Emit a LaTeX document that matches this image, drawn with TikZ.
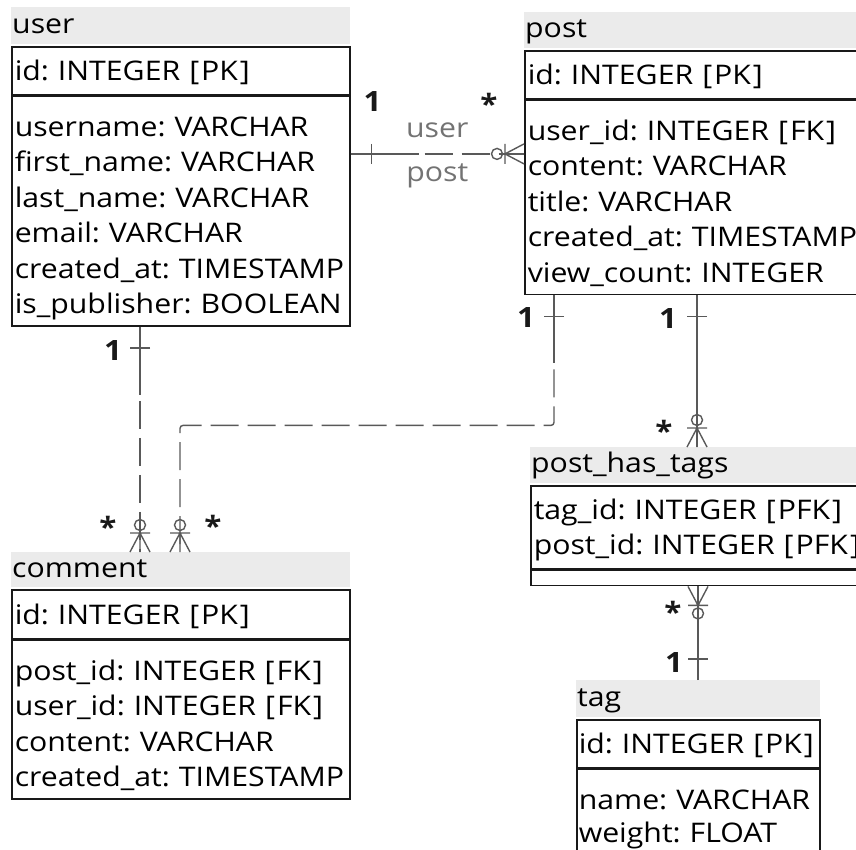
\documentclass[tikz,border=0pt]{standalone}
\usepackage{fontspec}
\setmainfont{Open Sans}[FakeStretch=1.12]
\usetikzlibrary{positioning,calc}
\frenchspacing

\begin{document}
\begin{tikzpicture}[
	x=1pt,y=-1pt,
	node distance=2.5pt,
	tblhead/.style={
		rectangle,fill=black!8,
		anchor=north west,align=left,
		inner xsep=1pt,inner ysep=0pt,
		text height=16pt,text depth=0pt,
		font=\fontsize{27}{35.5}\selectfont},
	tblkey/.style={
		rectangle,draw=black!90,line width=1.5pt,
		anchor=north west,align=left,
		inner xsep=3pt,inner ysep=0pt,
		text height=19pt,text depth=0pt,
		font=\fontsize{27}{35.5}\selectfont},
	tblcols/.style={
		tblkey,inner ysep=12.5pt,text height=27pt},
	rel/.style={draw=black!65,line width=1.4pt},
	broken/.style={rel,dash pattern=on 28pt off 9pt},
	card/.style={inner sep=0pt,text=black!90,
		font=\fontsize{28}{28}\selectfont\bfseries},
	role/.style={inner sep=0pt,text=black!55,
		font=\fontsize{27}{27}\selectfont},
	one/.pic={\draw[rel] (0,0) -- (68,0) (21,-10) -- (21,10);},
	many/.pic={\draw[rel] (0,-10) -- (19,0) -- (0,10) (0,0) -- (19,0)
		(19,-10) -- (19,10) (27,0) circle [radius=5.5pt];}
]
\useasboundingbox (0,0) rectangle (856,849);
\clip (0,0) rectangle (856,849);

% tables
\node[tblhead,text width=337pt,minimum height=36.5pt] (user) at (11,7) {user};
\node[tblkey,text width=332pt,minimum height=48pt,below=of user.south west,anchor=north west] (user-key) {id: INTEGER [\kern2pt PK\kern2pt]};
\node[tblcols,text width=332pt,text depth=177.5pt,below=0pt of user-key.south west,anchor=north west] (user-cols)
	{username: VARCHAR\\first\_name: VARCHAR\\last\_name: VARCHAR\\email: VARCHAR\\created\_at: TIMESTAMP\\is\_publisher: BOOLEAN};

\node[tblhead,text width=338pt,minimum height=35.5pt] (post) at (524,12) {post};
\node[tblkey,text width=334pt,minimum height=48pt,below=of post.south west,anchor=north west] (post-key) {id: INTEGER [\kern2pt PK\kern2pt]};
\node[tblcols,text width=334pt,text depth=142pt,below=0pt of post-key.south west,anchor=north west] (post-cols)
	{user\_id: INTEGER [\kern2pt FK\kern2pt]\\content: VARCHAR\\title: VARCHAR\\created\_at: TIMESTAMP\\view\_count: INTEGER};

\node[tblhead,text width=337pt,minimum height=34.5pt] (comment) at (11,552) {comment};
\node[tblkey,text width=332pt,minimum height=49pt,below=of comment.south west,anchor=north west] (comment-key) {id: INTEGER [\kern2pt PK\kern2pt]};
\node[tblcols,text width=332pt,text depth=106.5pt,below=0pt of comment-key.south west,anchor=north west] (comment-cols)
	{post\_id: INTEGER [\kern2pt FK\kern2pt]\\user\_id: INTEGER [\kern2pt FK\kern2pt]\\content: VARCHAR\\created\_at: TIMESTAMP};

\node[tblhead,text width=338pt,minimum height=35.5pt] (pht) at (530,447) {post\_has\_tags};
\node[tblkey,text width=334pt,text depth=35.5pt,minimum height=83pt,below=of pht.south west,anchor=north west] (pht-key)
	{tag\_id: INTEGER [\kern2pt PFK\kern2pt]\\post\_id: INTEGER [\kern2pt PFK\kern2pt]};
\node[tblkey,text width=334pt,text height=0pt,minimum height=15pt,below=0pt of pht-key.south west,anchor=north west] (pht-cols) {};

\node[tblhead,text width=242pt,minimum height=36.5pt] (tag) at (576,680) {tag};
\node[tblkey,text width=239pt,inner xsep=2pt,minimum height=48pt,below=of tag.south west,anchor=north west] (tag-key) {id: INTEGER [\kern2pt PK\kern2pt]};
\node[tblcols,text width=239pt,inner xsep=2pt,text depth=33pt,font=\fontsize{27}{33}\selectfont,below=0pt of tag-key.south west,anchor=north west] (tag-cols)
	{name: VARCHAR\\weight: FLOAT};

% relations
\coordinate (up) at ($(post-cols.north west)+(0,54)$);
\coordinate (uc) at ($(user-cols.south west)+(129,0)$);
\coordinate (pc) at ($(post-cols.south west)+(30,0)$);
\coordinate (cp) at ($(comment.north west)+(169,0)$);
\coordinate (pt) at ($(post-cols.south west)+(173,0)$);
\coordinate (tt) at ($(tag.north west)+(122,0)$);

\draw[broken] (user-cols.east |- up) -- (up);
\draw[broken] (uc) -- (uc |- comment.north);
\draw[broken,rounded corners=3pt] (pc) -- ++(0,130) -| (cp);
\draw[rel] (pt) -- (pt |- pht.north);
\draw[rel] (tt |- pht-cols.south) -- (tt);

\pic at (user-cols.east |- up) {one};
\pic[rotate=180] at (up) {many};
\pic[rotate=-90] at (uc) {one};
\pic[rotate=90] at (uc |- comment.north) {many};
\pic[rotate=-90] at (pc) {one};
\pic[rotate=90] at (cp) {many};
\pic[rotate=-90] at (pt) {one};
\pic[rotate=90] at (pt |- pht.north) {many};
\pic[rotate=-90] at (tt |- pht-cols.south) {many};
\pic[rotate=90] at (tt) {one};

% cardinalities and roles
\node[card] (up-one) at ($(user-cols.east |- up)+(22,-52)$) {1};
\node[card] (up-many) at ($(up)+(-35,-50)$) {*};
\node[role] (up-user) at ($(user-cols.east |- up)!0.5!(up)+(0,-24)$) {user};
\node[role] (up-post) at ($(user-cols.east |- up)!0.5!(up)+(0,22)$) {post};
\node[card] (uc-one) at ($(uc)+(-27,24)$) {1};
\node[card] (uc-many) at ($(uc |- comment.north)+(-32,-25)$) {*};
\node[card] (pc-one) at ($(pc)+(-28,22)$) {1};
\node[card] (pc-many) at ($(cp)+(33,-26)$) {*};
\node[card] (pt-one) at ($(pt)+(-29,23)$) {1};
\node[card] (pt-many) at ($(pt |- pht.north)+(-33,-16)$) {*};
\node[card] (tt-many) at ($(tt |- pht-cols.south)+(-25,25)$) {*};
\node[card] (tt-one) at ($(tt)+(-24,-18)$) {1};
\end{tikzpicture}
\end{document}
